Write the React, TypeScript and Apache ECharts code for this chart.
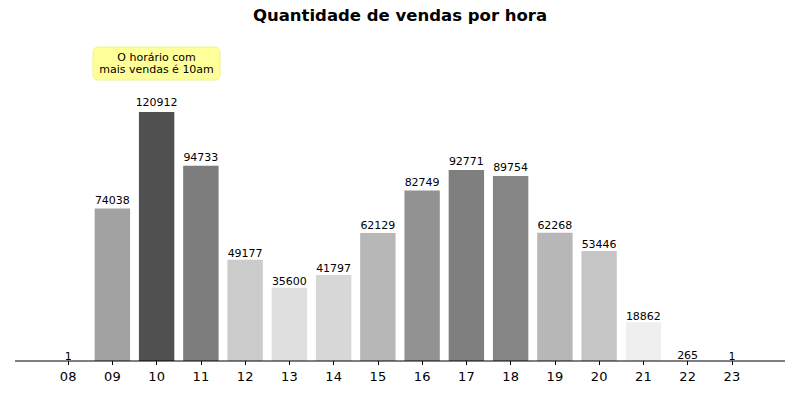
import React, { useEffect, useRef } from "react";
import * as echarts from "echarts";

const hours = ["08", "09", "10", "11", "12", "13", "14", "15", "16", "17", "18", "19", "20", "21", "22", "23"];
const sales = [1, 74038, 120912, 94733, 49177, 35600, 41797, 62129, 82749, 92771, 89754, 62268, 53446, 18862, 265, 1];
const barColors = [
  "#ffffff", "#a2a2a2", "#505050", "#7d7d7d", "#cbcbcb", "#dfdfdf", "#d7d7d7", "#b7b7b7",
  "#929292", "#7f7f7f", "#858585", "#b7b7b7", "#c6c6c6", "#efefef", "#fbfbfb", "#ffffff",
];
const titleText = "Quantidade de vendas por hora";
const noteLines = ["O horário com", "mais vendas é 10am"];

const FONT = "DejaVu Sans";

export default function App() {
  const ref = useRef<HTMLDivElement>(null);
  useEffect(() => {
    if (!ref.current) return;
    const chart = echarts.init(ref.current, undefined, { renderer: "svg" });
    const maxV = Math.max(...sales);
    chart.setOption({
      animation: false,
      backgroundColor: "#ffffff",
      textStyle: { fontFamily: FONT },
      title: {
        text: titleText,
        left: "center",
        top: 2,
        textStyle: { fontFamily: FONT, fontSize: 16.5, fontWeight: "bold", color: "#000" },
      },
      grid: { left: 46, right: 46, top: 52, bottom: 39 },
      xAxis: {
        type: "category",
        data: hours,
        axisLine: { show: false },
        axisTick: { show: true, alignWithLabel: true, length: 4, lineStyle: { color: "#000" } },
        axisLabel: { fontFamily: FONT, fontSize: 13, color: "#000", margin: 9 },
      },
      yAxis: {
        type: "value",
        min: 0,
        max: 150000,
        show: false,
        splitLine: { show: false },
      },
      series: [
        {
          type: "bar",
          barWidth: "80%",
          data: sales.map((v, i) => ({
            value: v,
            itemStyle: { color: barColors[i] },
            label: { distance: -1 + (5 * v) / maxV },
          })),
          label: {
            show: true,
            position: "top",
            fontFamily: FONT,
            fontSize: 11,
            color: "#000",
          },
        },
      ],
      graphic: [
        {
          type: "line",
          shape: { x1: 15, y1: 361, x2: 785, y2: 361 },
          style: { stroke: "#000", lineWidth: 1 },
          z: 10,
        },
        {
          type: "rect",
          shape: { x: 93, y: 47, width: 127, height: 33, r: 5 },
          style: { fill: "#ffff99", stroke: "#f2f28a", lineWidth: 1 },
        },
        {
          type: "text",
          x: 156.5,
          y: 63.5,
          style: {
            text: noteLines.join("\n"),
            fontFamily: FONT,
            fontSize: 11,
            lineHeight: 12,
            fill: "#000",
            align: "center",
            verticalAlign: "middle",
          },
        },
      ],
    });
    return () => chart.dispose();
  }, []);
  return (
    <div
      ref={ref}
      style={{ position: "absolute", left: 0, top: 0, width: 800, height: 400 }}
    />
  );
}
